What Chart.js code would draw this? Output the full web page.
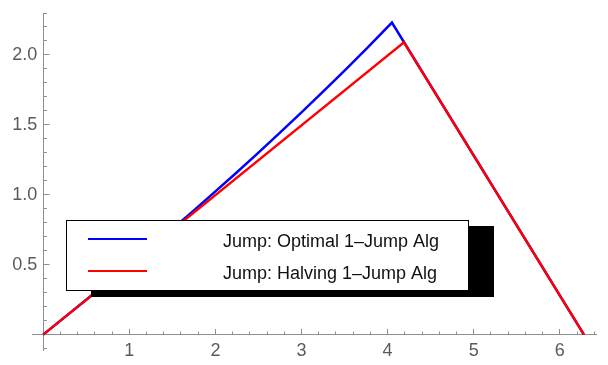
<!DOCTYPE html>
<html>
<head>
<meta charset="utf-8">
<script src="https://cdn.jsdelivr.net/npm/chart.js@4/dist/chart.umd.min.js"></script>
<style>
  html, body { margin: 0; padding: 0; background: #fff; }
  #wrap { width: 608px; height: 365px; }
</style>
</head>
<body>
<div id="wrap"><canvas id="chart"></canvas></div>
<script>
// series: optimal vs halving 1-jump algorithms
const optimalX = [0, 0.5, 1.0, 1.25, 1.5, 1.75, 2.0, 2.25, 2.5, 2.75, 3.0, 3.25, 3.5, 3.75, 4.05, 6.28];
const optimalY = [0, 0.25, 0.502, 0.628, 0.756, 0.888, 1.024, 1.161, 1.301, 1.444, 1.59, 1.738, 1.888, 2.042, 2.232, 0];
const halvingX = [0, 4.19, 6.28];
const halvingY = [0, 2.09, 0];
const seriesNames = ['Jump: Optimal 1\u2013Jump Alg', 'Jump: Halving 1\u2013Jump Alg'];

// axis ticks
const xTicks = [1, 2, 3, 4, 5, 6];
const xTickLabels = ['1', '2', '3', '4', '5', '6'];
const yTicks = [0.5, 1.0, 1.5, 2.0];
const yTickLabels = ['0.5', '1.0', '1.5', '2.0'];

const axisGray = '#8f8f8f';
const labelGray = '#5a5a5a';
Chart.defaults.font.family = "'Liberation Sans', Arial, sans-serif";

const toPoints = (xs, ys) => xs.map((x, i) => ({ x: x, y: ys[i] }));
const fixedTicks = vals => scale => { scale.ticks = vals.map(v => ({ value: v })); };

// boxed legend with an offset black shadow, drawn over the curves
const shadowLegend = {
  id: 'shadowLegend',
  afterDatasetsDraw(chart, args, o) {
    const ctx = chart.ctx;
    ctx.save();
    ctx.fillStyle = '#000';
    ctx.fillRect(o.x + o.shadowX, o.y + o.shadowY, o.w + 1, o.h + 1);
    ctx.fillStyle = '#fff';
    ctx.fillRect(o.x, o.y, o.w, o.h);
    ctx.strokeStyle = '#000';
    ctx.lineWidth = 1;
    ctx.strokeRect(o.x + 0.5, o.y + 0.5, o.w, o.h);
    ctx.font = o.font;
    ctx.textBaseline = 'alphabetic';
    ctx.textAlign = 'left';
    o.order.forEach((dsIndex, row) => {
      const ds = chart.data.datasets[dsIndex];
      const ly = o.y + o.firstRow + row * o.rowGap;
      ctx.strokeStyle = ds.borderColor;
      ctx.lineWidth = 2;
      ctx.beginPath();
      ctx.moveTo(o.x + o.lineStart, ly);
      ctx.lineTo(o.x + o.lineEnd, ly);
      ctx.stroke();
      ctx.fillStyle = '#111';
      ctx.fillText(ds.label, o.x + o.textX, ly + 8);
    });
    ctx.restore();
  }
};

const xRange = { min: -0.13, max: 6.42 };
const yRange = { min: -0.11, max: 2.3 };

new Chart(document.getElementById('chart'), {
  type: 'line',
  data: {
    datasets: [{
      label: seriesNames[0],
      data: toPoints(optimalX, optimalY),
      borderColor: '#0000ff',
      borderWidth: 2.5,
      pointRadius: 0,
      fill: false,
      tension: 0,
      order: 1
    }, {
      label: seriesNames[1],
      data: toPoints(halvingX, halvingY),
      borderColor: '#ff0000',
      borderWidth: 2.5,
      pointRadius: 0,
      fill: false,
      tension: 0,
      order: 0
    }]
  },
  options: {
    responsive: true,
    maintainAspectRatio: false,
    animation: false,
    layout: { padding: { left: 32, right: 12, top: 13, bottom: 15 } },
    plugins: {
      legend: { display: false },
      tooltip: { enabled: false },
      shadowLegend: {
        x: 66, y: 220, w: 402, h: 70,
        shadowX: 25, shadowY: 6,
        firstRow: 19, rowGap: 32,
        lineStart: 22, lineEnd: 81, textX: 157,
        font: "18px 'Liberation Sans', Arial, sans-serif",
        order: [0, 1]
      }
    },
    scales: {
      x: {
        type: 'linear', axis: 'x', ...xRange,
        position: { y: 0 },
        afterBuildTicks: fixedTicks(xTicks),
        border: { color: axisGray, width: 1 },
        grid: { drawOnChartArea: false, drawTicks: true, tickLength: -6, tickColor: axisGray },
        ticks: {
          padding: 12, color: labelGray, font: { size: 18 },
          maxRotation: 0, autoSkip: false,
          callback: (v, i) => xTickLabels[i]
        }
      },
      xMinor: {
        type: 'linear', axis: 'x', ...xRange,
        position: { y: 0 },
        border: { display: false },
        grid: { drawOnChartArea: false, drawTicks: true, tickLength: -3.5, tickColor: axisGray },
        ticks: { display: false, stepSize: 0.2, includeBounds: false, autoSkip: false }
      },
      y: {
        type: 'linear', axis: 'y', ...yRange,
        position: { x: 0 },
        afterBuildTicks: fixedTicks(yTicks),
        border: { color: axisGray, width: 1 },
        grid: { drawOnChartArea: false, drawTicks: true, tickLength: -6.5, tickColor: axisGray },
        ticks: { display: false }
      },
      yMinor: {
        type: 'linear', axis: 'y', ...yRange,
        position: { x: 0 },
        border: { display: false },
        grid: { drawOnChartArea: false, drawTicks: true, tickLength: -4, tickColor: axisGray },
        ticks: { display: false, stepSize: 0.1, includeBounds: false, autoSkip: false }
      },
      yLabels: {
        type: 'linear', axis: 'y', ...yRange,
        position: { x: -0.07 },
        afterBuildTicks: fixedTicks(yTicks),
        border: { display: false },
        grid: { display: false, drawTicks: false },
        ticks: {
          padding: 0, color: labelGray, font: { size: 18 }, autoSkip: false,
          callback: (v, i) => yTickLabels[i]
        }
      }
    }
  },
  plugins: [shadowLegend]
});
</script>
</body>
</html>
